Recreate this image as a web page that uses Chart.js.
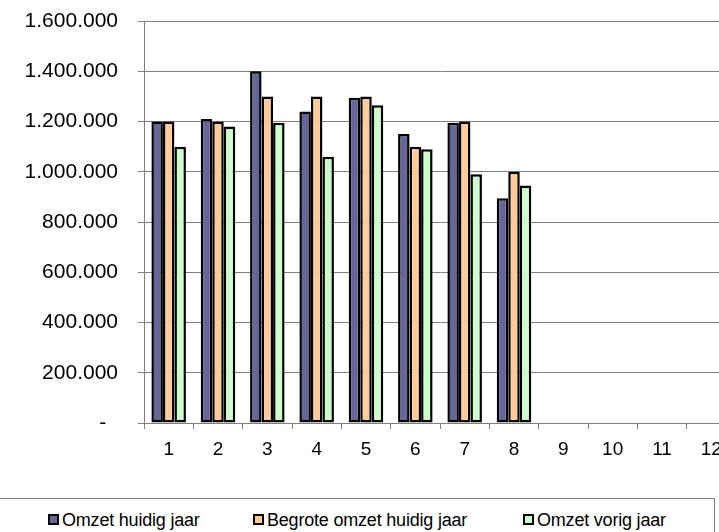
<!DOCTYPE html>
<html>
<head>
<meta charset="utf-8">
<script src="https://cdn.jsdelivr.net/npm/chart.js@4"></script>
<style>
  body { margin: 0; overflow: hidden; background: #fff; width: 719px; height: 532px; position: relative; }
  #wrap { position: absolute; left: 0; top: 0; width: 736px; height: 463px; }
  #legend { position: absolute; left: 0; top: 498px; width: 714px; height: 60px; border-top: 1px solid #808080; border-right: 1px solid #808080; font-family: "Liberation Sans", Arial, sans-serif; font-size: 18px; }
  .item { position: absolute; top: 11px; white-space: nowrap; letter-spacing: -0.2px; }
  .sw { display: inline-block; width: 7px; height: 7px; border: 2px solid #000; margin-right: 3px; vertical-align: 1px; }
</style>
</head>
<body>
<div id="wrap"><canvas id="c" width="736" height="463"></canvas></div>
<div id="legend"></div>
<script>
const labels = ["1", "2", "3", "4", "5", "6", "7", "8", "9", "10", "11", "12"];
const seriesNames = ["Omzet huidig jaar", "Begrote omzet huidig jaar", "Omzet vorig jaar"];
const omzetHuidig = [1200000, 1210000, 1400000, 1240000, 1295000, 1150000, 1195000, 895000, null, null, null, null];
const begroot = [1200000, 1200000, 1300000, 1300000, 1300000, 1100000, 1200000, 1000000, null, null, null, null];
const omzetVorig = [1100000, 1180000, 1195000, 1060000, 1265000, 1090000, 990000, 945000, null, null, null, null];
const colors = ["#666699", "#FFCC99", "#CCFFCC"];
const legendX = [48, 253, 523];

function fmt(v) {
  if (v === 0) return "-  ";
  return String(v).replace(/\B(?=(\d{3})+(?!\d))/g, ".");
}

const datasets = [omzetHuidig, begroot, omzetVorig].map((d, i) => ({
  label: seriesNames[i],
  data: d,
  backgroundColor: colors[i],
  borderColor: "#000",
  borderWidth: 2.5,
  borderSkipped: false,
  categoryPercentage: 0.7,
  barPercentage: 1.0
}));

new Chart(document.getElementById("c"), {
  type: "bar",
  data: { labels: labels, datasets: datasets },
  options: {
    responsive: false,
    animation: false,
    devicePixelRatio: 1,
    layout: { padding: { top: 21, left: 0, right: 0, bottom: 0 } },
    plugins: { legend: { display: false }, tooltip: { enabled: false } },
    scales: {
      x: {
        afterFit: s => { s.height = 40; s.paddingLeft = 0; s.paddingRight = 0; },
        grid: { drawOnChartArea: false, color: "#808080", tickLength: 6, offset: true },
        border: { color: "#808080", width: 1 },
        ticks: { color: "#000", padding: 9, maxRotation: 0, font: { family: "Liberation Sans", size: 19 } }
      },
      y: {
        min: 0,
        max: 1600000,
        afterFit: s => { s.width = 144; s.paddingTop = 0; s.paddingBottom = 0; },
        grid: { color: "#808080", tickLength: 6 },
        border: { color: "#808080", width: 1 },
        ticks: { stepSize: 200000, color: "#000", padding: 20, callback: v => fmt(v), font: { family: "Liberation Sans", size: 21 } }
      }
    }
  }
});

const leg = document.getElementById("legend");
seriesNames.forEach((n, i) => {
  const it = document.createElement("span");
  it.className = "item";
  it.style.left = legendX[i] + "px";
  const sw = document.createElement("span");
  sw.className = "sw";
  sw.style.background = colors[i];
  it.appendChild(sw);
  it.appendChild(document.createTextNode(n));
  leg.appendChild(it);
});
</script>
</body>
</html>
